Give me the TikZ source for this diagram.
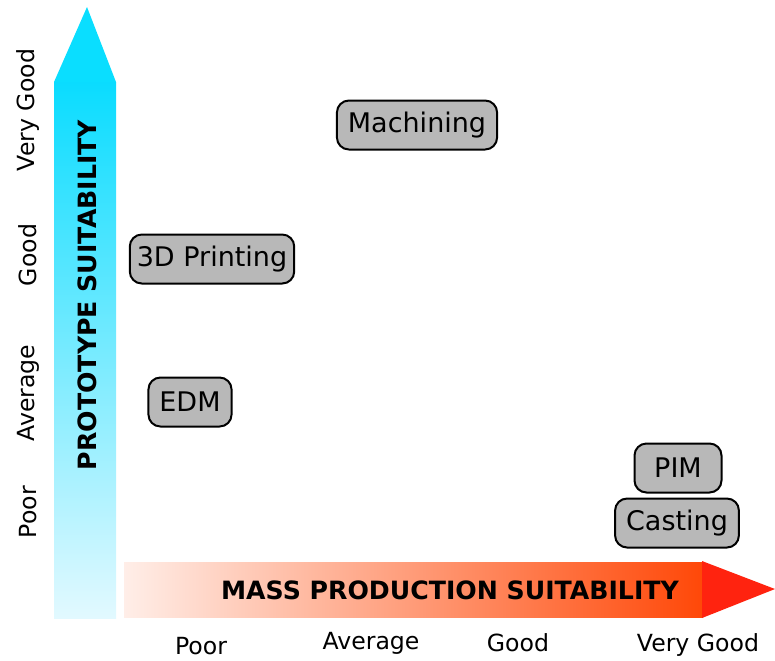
\documentclass[tikz,border=0pt]{standalone}
\usepackage{fontspec}
\setmainfont{DejaVu Sans}
\usepackage{tikz}
\usetikzlibrary{positioning}
\definecolor{ProtoTop}{RGB}{10,220,255}
\definecolor{ProtoBottom}{RGB}{226,249,255}
\definecolor{ProtoHead}{RGB}{10,222,255}
\definecolor{MassLeft}{RGB}{255,238,232}
\definecolor{MassRight}{RGB}{255,72,8}
\definecolor{MassHead}{RGB}{255,35,15}
\definecolor{MethodGray}{RGB}{184,184,184}
\tikzset{
  methodbox/.style={draw=black,rounded corners=6pt,fill=MethodGray,
    line width=1pt,minimum height=24.5pt,inner xsep=5.5pt,
    font=\fontsize{13.5}{16}\selectfont},
  ratinglabel/.style={font=\fontsize{11.8}{14}\selectfont},
  axistitle/.style={font=\fontsize{12.6}{15}\selectfont\bfseries}
}
\begin{document}
\begin{tikzpicture}[x=0.5pt,y=-0.5pt]
  \useasboundingbox (0,0) rectangle (775,660);
  % prototype axis
  \shade[top color=ProtoTop,bottom color=ProtoBottom] (54,82) rectangle (116,618);
  \fill[ProtoHead] (54,82) -- (87,7) -- (116,82) -- cycle;
  \node[axistitle,rotate=90] (prototitle) at (87,295) {PROTOTYPE SUITABILITY};
  % mass production axis
  \shade[left color=MassLeft,right color=MassRight] (124,562) rectangle (703,617);
  \fill[MassHead] (702,561) -- (775,589) -- (702,618) -- cycle;
  \node[axistitle] (masstitle) at (450,590) {MASS PRODUCTION SUITABILITY};
  % ratings
  \node[ratinglabel,rotate=90] (yvgood) at (28,110) {Very Good};
  \node[ratinglabel,rotate=90] (ygood) at (28,255) {Good};
  \node[ratinglabel,rotate=90] (yavg) at (28,393) {Average};
  \node[ratinglabel,rotate=90] (ypoor) at (28,512) {Poor};
  \node[ratinglabel] (xpoor) at (201,646) {Poor};
  \node[ratinglabel] (xavg) at (371,643) {Average};
  \node[ratinglabel] (xgood) at (518,643) {Good};
  \node[ratinglabel] (xvgood) at (698,645) {Very Good};
  % methods
  \node[methodbox] (machining) at (417,125) {Machining};
  \node[methodbox,inner xsep=3.5pt] (printing) at (212,259) {3D Printing};
  \node[methodbox] (edm) at (190,402) {EDM};
  \node[methodbox,minimum width=43.5pt] (pim) at (678,468) {PIM};
  \node[methodbox] (casting) at (677,523) {Casting};
\end{tikzpicture}
\end{document}
